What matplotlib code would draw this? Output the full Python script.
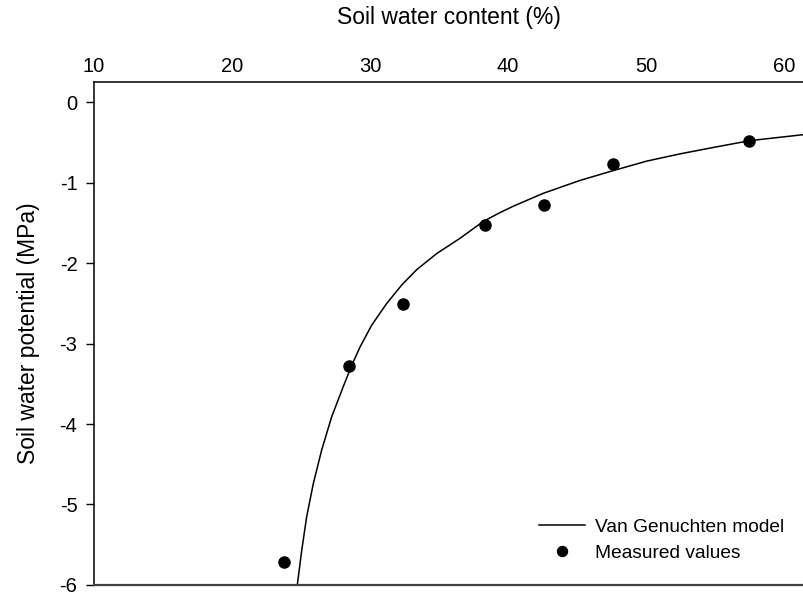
import matplotlib.pyplot as plt

plt.rcParams["font.family"] = ["Liberation Sans", "DejaVu Sans"]
plt.rcParams["axes.unicode_minus"] = False

# measured soil water retention points
theta_meas = [23.8, 28.5, 32.4, 38.3, 42.6, 47.6, 57.5]
psi_meas = [-5.72, -3.28, -2.51, -1.52, -1.27, -0.76, -0.475]

# fitted Van Genuchten curve (theta, psi)
theta_fit = [24.73, 25.05, 25.41, 25.89, 26.50, 27.22, 28.07, 28.67, 29.28,
             30.12, 31.21, 32.30, 33.38, 34.83, 36.52, 38.21, 39.42, 40.39,
             42.56, 45.22, 47.58, 50.05, 52.46, 54.88, 57.54, 61.45]
psi_fit = [-6.00, -5.57, -5.15, -4.74, -4.32, -3.91, -3.53, -3.27, -3.04,
           -2.77, -2.50, -2.27, -2.08, -1.88, -1.69, -1.48, -1.37, -1.29,
           -1.13, -0.97, -0.85, -0.73, -0.64, -0.56, -0.475, -0.40]

fig = plt.figure(figsize=(8.04, 5.98), dpi=100)
ax = fig.add_axes([0.117, 0.022, 0.883, 0.841])

ax.plot(theta_fit, psi_fit, color="black", lw=1.1, label="Van Genuchten model")
ax.plot(theta_meas, psi_meas, "o", color="black", ms=8, label="Measured values")

ax.set_xlim(10, 61.45)
ax.set_ylim(-6, 0.255)
ax.set_xticks([10, 20, 30, 40, 50, 60])
ax.set_yticks([0, -1, -2, -3, -4, -5, -6])

# x axis sits on top
ax.xaxis.tick_top()
ax.xaxis.set_label_position("top")
ax.tick_params(axis="x", length=0, pad=4, labelsize=14.5)
ax.tick_params(axis="y", length=6, width=1, direction="out", pad=6, labelsize=14.5)

ax.spines["right"].set_visible(False)
ax.spines["top"].set_linewidth(1.1)
ax.spines["left"].set_linewidth(1.1)
ax.spines["bottom"].set_color("#404040")
ax.spines["bottom"].set_linewidth(1.6)

ax.set_xlabel("Soil water content (%)", fontsize=16.5, labelpad=24)
ax.set_ylabel("Soil water potential (MPa)", fontsize=16.5, labelpad=14)

ax.legend(loc="lower right", bbox_to_anchor=(0.997, 0.012), frameon=False,
          fontsize=13.8, handlelength=2.4, handletextpad=0.55, labelspacing=0.45,
          markerscale=0.9)

fig.savefig("out.png", dpi=100)
